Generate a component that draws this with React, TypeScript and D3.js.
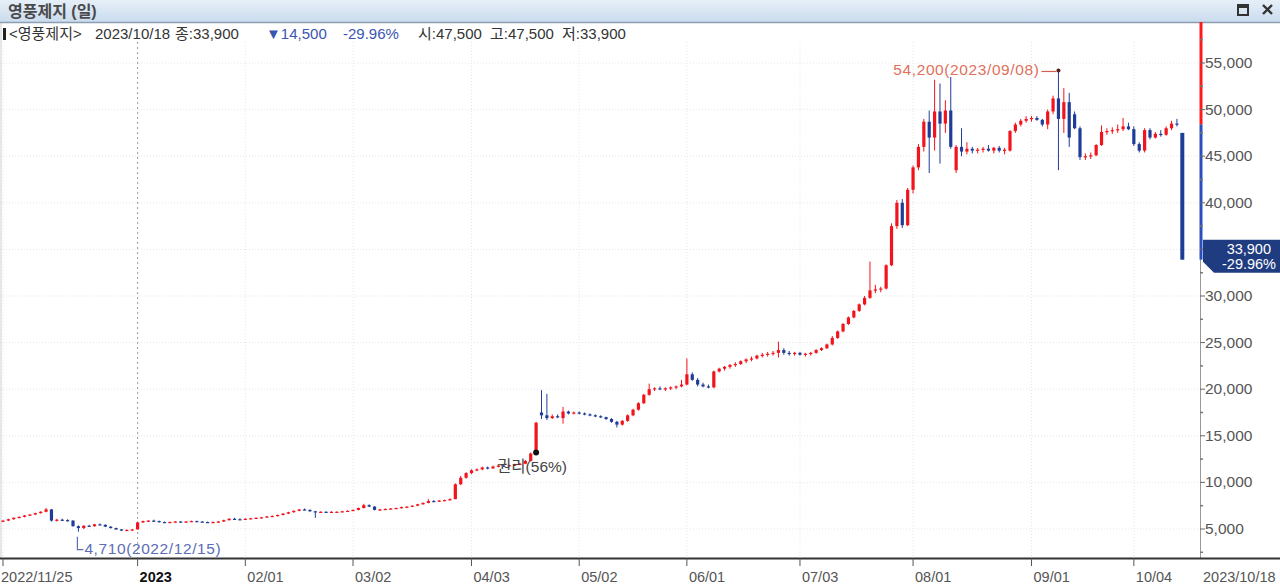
import React from "react";
import * as d3 from "d3";

const dates: string[] = [
  "2022/11/25","2022/11/28","2022/11/29","2022/11/30",
  "2022/12/01","2022/12/02","2022/12/05","2022/12/06","2022/12/07","2022/12/08","2022/12/09","2022/12/12","2022/12/13","2022/12/14","2022/12/15","2022/12/16","2022/12/19","2022/12/20","2022/12/21","2022/12/22","2022/12/23","2022/12/26","2022/12/27","2022/12/28","2022/12/29",
  "2023/01/02","2023/01/03","2023/01/04","2023/01/05","2023/01/06","2023/01/09","2023/01/10","2023/01/11","2023/01/12","2023/01/13","2023/01/16","2023/01/17","2023/01/18","2023/01/19","2023/01/20","2023/01/25","2023/01/26","2023/01/27","2023/01/30","2023/01/31",
  "2023/02/01","2023/02/02","2023/02/03","2023/02/06","2023/02/07","2023/02/08","2023/02/09","2023/02/10","2023/02/13","2023/02/14","2023/02/15","2023/02/16","2023/02/17","2023/02/20","2023/02/21","2023/02/22","2023/02/23","2023/02/24","2023/02/27","2023/02/28",
  "2023/03/02","2023/03/03","2023/03/06","2023/03/07","2023/03/08","2023/03/09","2023/03/10","2023/03/13","2023/03/14","2023/03/15","2023/03/16","2023/03/17","2023/03/20","2023/03/21","2023/03/22","2023/03/23","2023/03/24","2023/03/27","2023/03/28","2023/03/29","2023/03/30","2023/03/31",
  "2023/04/03","2023/04/04","2023/04/05","2023/04/06","2023/04/07","2023/04/10","2023/04/11","2023/04/12","2023/04/13","2023/04/14","2023/04/17","2023/04/18","2023/04/19","2023/04/20","2023/04/21","2023/04/24","2023/04/25","2023/04/26","2023/04/27","2023/04/28",
  "2023/05/02","2023/05/03","2023/05/04","2023/05/08","2023/05/09","2023/05/10","2023/05/11","2023/05/12","2023/05/15","2023/05/16","2023/05/17","2023/05/18","2023/05/19","2023/05/22","2023/05/23","2023/05/24","2023/05/25","2023/05/26","2023/05/30","2023/05/31",
  "2023/06/01","2023/06/02","2023/06/05","2023/06/07","2023/06/08","2023/06/09","2023/06/12","2023/06/13","2023/06/14","2023/06/15","2023/06/16","2023/06/19","2023/06/20","2023/06/21","2023/06/22","2023/06/23","2023/06/26","2023/06/27","2023/06/28","2023/06/29","2023/06/30",
  "2023/07/03","2023/07/04","2023/07/05","2023/07/06","2023/07/07","2023/07/10","2023/07/11","2023/07/12","2023/07/13","2023/07/14","2023/07/17","2023/07/18","2023/07/19","2023/07/20","2023/07/21","2023/07/24","2023/07/25","2023/07/26","2023/07/27","2023/07/28","2023/07/31",
  "2023/08/01","2023/08/02","2023/08/03","2023/08/04","2023/08/07","2023/08/08","2023/08/09","2023/08/10","2023/08/11","2023/08/14","2023/08/16","2023/08/17","2023/08/18","2023/08/21","2023/08/22","2023/08/23","2023/08/24","2023/08/25","2023/08/28","2023/08/29","2023/08/30","2023/08/31",
  "2023/09/01","2023/09/04","2023/09/05","2023/09/06","2023/09/07","2023/09/08","2023/09/11","2023/09/12","2023/09/13","2023/09/14","2023/09/15","2023/09/18","2023/09/19","2023/09/20","2023/09/21","2023/09/22","2023/09/25","2023/09/26","2023/09/27",
  "2023/10/04","2023/10/05","2023/10/06","2023/10/10","2023/10/11","2023/10/12","2023/10/13","2023/10/16","2023/10/17","2023/10/18",
];

const opens: number[] = [
  5800,5900,6050,6200,6300,6450,6550,6700,6850,7100,5900,6000,5950,5900,5300,5100,5350,5300,5500,5450,5250,5100,4950,4850,4900,
  4950,5700,5850,5900,5850,5750,5700,5750,5800,5750,5800,5850,5800,5750,5700,5750,5800,5950,6100,6050,
  6000,6100,6150,6200,6250,6350,6400,6500,6650,6800,6950,7100,7050,6900,6800,6850,6800,6850,6850,6900,
  6950,7050,7250,7550,7400,7050,7100,7150,7200,7250,7350,7400,7500,7650,7800,8000,7950,8050,8100,8200,9800,10500,
  11000,11300,11400,11600,11500,11700,11800,11750,11850,11900,12000,12300,13300,17500,17200,16900,17100,16900,17600,17400,
  17500,17400,17300,17200,17100,17000,16800,16500,16200,16600,17200,17800,18500,19400,20000,20100,20000,20100,20200,20300,
  20500,21600,21000,20500,20300,20200,21900,22200,22400,22600,22700,23000,23200,23300,23600,23700,23800,23900,24200,23900,23800,
  23900,23700,23800,23900,24200,24400,24800,25500,26200,27000,27700,28400,29100,29800,30600,30700,30800,33300,37500,40000,37600,
  41400,43800,46000,48700,47000,49800,48500,49900,43500,46000,45500,45800,45600,45700,45800,45600,45900,45600,45600,47700,48400,48800,
  49000,49100,48900,48400,49800,51200,49000,50800,49500,48000,44900,45000,45100,46200,47600,47700,47800,47900,48200,
  47900,46300,45600,47800,47000,47400,47300,48000,48500,47500,
];

const highs: number[] = [
  5950,6100,6250,6350,6500,6600,6750,6900,7250,7150,6100,6100,6050,5950,5400,5400,5450,5550,5600,5500,5300,5150,5000,4950,5000,
  5800,5900,5950,6000,5900,5800,5800,5850,5850,5850,5900,5900,5850,5800,5800,5850,6000,6150,6200,6150,
  6150,6200,6250,6300,6400,6450,6550,6700,6850,7000,7150,7200,7100,6950,6900,6900,6900,6900,6950,7000,
  7100,7300,7700,7650,7450,7150,7200,7250,7300,7400,7450,7550,7700,7850,8200,8100,8100,8150,8300,9900,10700,11100,
  11400,11500,11700,11700,11800,11900,11900,11900,12000,12100,12400,13200,16500,19900,19500,17300,17300,18100,17700,17600,
  17600,17500,17400,17300,17200,17050,16900,16600,16700,17300,17900,18600,19500,20600,20200,20300,20200,20300,20400,21000,
  23300,21800,21200,20700,20500,22000,22300,22500,22700,22900,23100,23300,23500,23700,23900,24000,24100,25100,24400,24100,24000,
  24000,23900,24000,24300,24500,24900,25700,26300,27100,27800,28500,29200,30000,33700,31200,31000,33400,37800,40300,40400,41600,
  44000,46300,49000,49900,53200,52800,51000,53500,46200,48000,46500,46000,45900,46000,46200,46000,46100,45900,47800,48600,49000,49300,
  49300,49300,49000,50000,51500,54200,52300,51800,49800,48200,45300,45400,46300,48300,48000,48100,48400,49100,48600,
  48200,46500,48000,48000,47600,47800,48200,48800,49000,47500,
];

const lows: number[] = [
  5750,5850,6000,6150,6250,6400,6500,6650,6800,5800,5800,5850,5800,5250,4710,5000,5250,5250,5400,5200,5050,4900,4800,4800,4850,
  4950,5650,5750,5800,5700,5650,5650,5700,5700,5700,5750,5750,5700,5650,5650,5700,5750,5900,6000,5950,
  5950,6050,6100,6150,6200,6300,6350,6450,6600,6750,6900,7000,6850,6200,6750,6750,6750,6800,6800,6850,
  6900,7000,7200,7350,7000,6950,7050,7100,7150,7200,7300,7350,7450,7600,7750,7900,7900,8000,8050,8200,9700,10400,
  10900,11200,11300,11400,11450,11600,11650,11700,11750,11850,11950,12250,13200,16800,16700,16800,16900,16300,17300,17300,
  17300,17200,17100,17000,16900,16700,16400,15900,16100,16500,17100,17700,18400,19300,19800,19900,19800,19900,20000,20200,
  20400,20900,20300,20200,20100,20100,21800,22000,22200,22400,22600,22800,23000,23200,23400,23500,23600,23400,23700,23600,23600,
  23600,23500,23600,23800,24100,24300,24700,25400,26100,26900,27600,28300,29000,29700,30300,30400,30700,33200,37200,37300,37500,
  41000,43500,45500,43200,45600,44200,47500,45800,43200,45000,45200,45300,45300,45400,45500,45300,45400,45200,45500,47500,48200,48600,
  48700,48800,48200,47900,49500,43500,47500,46000,47900,44600,44600,44700,45000,46100,47300,47400,47500,47700,47800,
  46100,45400,45400,46800,46900,47100,47200,47800,48200,33900,
];

const closes: number[] = [
  5900,6050,6200,6300,6450,6550,6700,6850,7100,5900,6000,5950,5900,5300,5100,5350,5300,5500,5450,5250,5100,4950,4850,4900,4950,
  5700,5850,5900,5850,5750,5700,5750,5800,5750,5800,5850,5800,5750,5700,5750,5800,5950,6100,6050,6000,
  6100,6150,6200,6250,6350,6400,6500,6650,6800,6950,7100,7050,6900,6800,6850,6800,6850,6850,6900,6950,
  7050,7250,7550,7400,7050,7100,7150,7200,7250,7350,7400,7500,7650,7800,8000,7950,8050,8100,8200,9800,10500,11000,
  11300,11400,11600,11500,11700,11800,11750,11850,11900,12000,12300,13100,16400,17200,16900,17100,17000,17600,17400,17500,
  17400,17300,17200,17100,17000,16800,16500,16200,16600,17200,17800,18500,19400,20000,20100,20000,20100,20200,20300,20500,
  21600,21000,20500,20300,20200,21900,22200,22400,22600,22700,23000,23200,23300,23600,23700,23800,23900,24200,23900,23800,23900,
  23700,23800,23900,24200,24400,24800,25500,26200,27000,27700,28400,29100,29800,30600,30700,30800,33300,37500,40000,37600,41400,
  43800,46000,48700,47000,49800,48500,49900,46000,46000,45500,45800,45600,45700,45800,45600,45900,45600,45700,47700,48400,48800,49000,
  49100,48900,48400,49800,51200,49000,50800,47000,48000,44900,45000,45100,46200,47600,47700,47800,47900,48200,47900,
  46300,45600,47800,47000,47400,47300,48000,48500,48400,33900,
];

const xTickDates = ["2022/11/25","2023/01/02","2023/02/01","2023/03/02","2023/04/03","2023/05/02","2023/06/01","2023/07/03","2023/08/01","2023/09/01","2023/10/04"];
const xTickLabels = ["2022/11/25","2023","02/01","03/02","04/03","05/02","06/01","07/03","08/01","09/01","10/04"];
const lastDateLabel = "2023/10/18";
const yTickValues = [5000,10000,15000,20000,25000,30000,35000,40000,45000,50000,55000];
const yMinorValues = [2500,7500,12500,17500,22500,27500,32500,37500,42500,47500,52500,57500];

const chartTitle = "영풍제지 (일)";
const stockName = "<영풍제지>";
const infoDate = "2023/10/18";
const infoClose = "종:33,900";
const infoChange = "▼14,500";
const infoPct = "-29.96%";
const infoOpen = "시:47,500";
const infoHigh = "고:47,500";
const infoLow = "저:33,900";
const prevClose = 48400;
const lastPctLabel = "-29.96%";
const rightsDate = "2023/04/19";
const rightsLabel = "권리(56%)";

const UP = "#f2141c";
const DOWN = "#1f3d96";
const FONT = "'Liberation Sans', 'Noto Sans CJK KR', sans-serif";
const W = 1280, H = 586;
const PLOT_TOP = 22, PLOT_BOTTOM = 558, AXIS_X = 1200;

export default function App() {
  const x = d3.scaleBand<string>().domain(dates).range([0.3, 1185]).padding(0);
  const y = d3.scaleLinear().domain([1888, 59400]).range([PLOT_BOTTOM, PLOT_TOP]);
  const bw = x.bandwidth();
  const cx = (d: string) => (x(d) as number) + bw / 2;
  const fmt = d3.format(",");

  const iMax = d3.maxIndex(highs);
  const iMin = d3.minIndex(lows);
  const iLast = dates.length - 1;
  const iRights = dates.indexOf(rightsDate);

  const maxX = cx(dates[iMax]);
  const maxY = y(highs[iMax]);
  const minX = cx(dates[iMin]);
  const minY = y(lows[iMin]);
  const lastY = y(closes[iLast]);

  return (
    <svg width={W} height={H} style={{ position: "absolute", left: 0, top: 0, display: "block", background: "#fff" }} fontFamily={FONT}>
      <defs>
        <linearGradient id="titleGrad" x1="0" y1="0" x2="0" y2="1">
          <stop offset="0" stopColor="#e6eff8" />
          <stop offset="1" stopColor="#cadcee" />
        </linearGradient>
      </defs>
      <rect x={0} y={0} width={W} height={H} fill="#fff" />

      {/* grid */}
      {yTickValues.map((v) => (
        <line key={"hg" + v} x1={0} x2={AXIS_X} y1={y(v)} y2={y(v)} stroke="#e6e6e6" strokeDasharray="1,2" />
      ))}
      {xTickDates.map((d, i) => (
        <line key={"vg" + d} x1={cx(d)} x2={cx(d)} y1={PLOT_TOP + 20} y2={PLOT_BOTTOM}
          stroke={i === 1 ? "#9a9a9a" : "#e6e6e6"} strokeDasharray={i === 1 ? "2,3" : "1,2"} />
      ))}
      <line x1={1} x2={1} y1={PLOT_TOP} y2={PLOT_BOTTOM} stroke="#cfcfcf" />

      {/* candles */}
      {dates.map((d, i) => {
        const o = opens[i], c = closes[i];
        const up = c >= o;
        const col = up ? UP : DOWN;
        const top = y(Math.max(o, c));
        const bot = y(Math.min(o, c));
        const bodyW = i === iLast ? 4 : 3.2;
        return (
          <g key={d}>
            <line x1={cx(d)} x2={cx(d)} y1={y(highs[i])} y2={y(lows[i])} stroke={col} strokeWidth={1} />
            <rect x={cx(d) - bodyW / 2} y={top} width={bodyW} height={Math.max(1.2, bot - top)} fill={col} />
          </g>
        );
      })}

      {/* max annotation */}
      <text x={maxX - 19} y={maxY + 5} textAnchor="end" fontSize={15.5} letterSpacing={0.6} fill="#e0705c">
        {`${fmt(highs[iMax])}(${dates[iMax]})`}
      </text>
      <line x1={maxX - 17} x2={maxX - 2} y1={maxY + 1} y2={maxY + 1} stroke="#d06050" strokeWidth={1.2} />
      <circle cx={maxX} cy={maxY} r={2} fill="#5a2020" />

      {/* min annotation */}
      <path d={`M${minX - 1},${minY + 5} V${minY + 18} H${minX + 5}`} fill="none" stroke="#5b6db5" strokeWidth={1.2} />
      <text x={minX + 6} y={minY + 22} fontSize={15.5} letterSpacing={0.6} fill="#5b6db5">
        {`${fmt(lows[iMin])}(${dates[iMin]})`}
      </text>

      {/* rights marker */}
      <circle cx={cx(rightsDate)} cy={y(lows[iRights])} r={3} fill="#111" />
      <text x={cx(rightsDate) - 39} y={y(lows[iRights]) + 19} fontSize={15.5} fill="#444">{rightsLabel}</text>

      {/* title bar */}
      <rect x={0} y={0} width={W} height={PLOT_TOP} fill="url(#titleGrad)" />
      <line x1={0} x2={W} y1={PLOT_TOP + 0.5} y2={PLOT_TOP + 0.5} stroke="#8e9eb2" strokeWidth={1.5} />
      <text x={8} y={17} fontSize={16} fontWeight="bold" fill="#4a4a4a">{chartTitle}</text>
      <rect x={1238} y={5} width={10} height={10} fill="none" stroke="#333" strokeWidth={2} />
      <rect x={1238} y={5} width={10} height={3} fill="#333" />
      <path d="M1263,5 L1272,14 M1272,5 L1263,14" stroke="#333" strokeWidth={2.4} />

      {/* info line */}
      <rect x={3} y={28} width={3} height={12} fill="#222" />
      <g fontSize={15} fill="#333">
        <text x={9} y={39}>{stockName}</text>
        <text x={95} y={39}>{infoDate}</text>
        <text x={175} y={39}>{infoClose}</text>
        <text x={266} y={39} fill="#3a56b0">{infoChange}</text>
        <text x={343} y={39} fill="#3a56b0">{infoPct}</text>
        <text x={418} y={39}>{infoOpen}</text>
        <text x={490} y={39}>{infoHigh}</text>
        <text x={562} y={39}>{infoLow}</text>
      </g>

      {/* right axis */}
      <line x1={AXIS_X + 0.5} x2={AXIS_X + 0.5} y1={PLOT_TOP} y2={PLOT_BOTTOM} stroke="#999" />
      <line x1={AXIS_X + 1} x2={AXIS_X + 1} y1={PLOT_TOP} y2={y(prevClose)} stroke="#ff1a1a" strokeWidth={3} />
      <line x1={AXIS_X + 1} x2={AXIS_X + 1} y1={y(prevClose)} y2={lastY} stroke="#2a4fc0" strokeWidth={3} />
      {yMinorValues.map((v) => (
        <line key={"mn" + v} x1={AXIS_X} x2={AXIS_X + 3} y1={y(v)} y2={y(v)} stroke="#777" strokeWidth={1.5} />
      ))}
      {yTickValues.map((v) => (
        <g key={"yt" + v}>
          <line x1={AXIS_X} x2={AXIS_X + 5} y1={y(v)} y2={y(v)} stroke="#666" />
          {Math.abs(y(v) - lastY) > 22 && (
            <text x={AXIS_X + 5} y={y(v) + 5} fontSize={15.5} fill="#555">{fmt(v)}</text>
          )}
        </g>
      ))}

      {/* last price box */}
      <path d={`M${AXIS_X + 3},${lastY - 20} H${W} V${lastY + 13} H${AXIS_X + 14} L${AXIS_X + 3},${lastY + 2} Z`} fill="#1f3c80" />
      <text x={W - 9} y={lastY - 6} textAnchor="end" fontSize={14.5} fill="#fff">{fmt(closes[iLast])}</text>
      <text x={W - 4} y={lastY + 9} textAnchor="end" fontSize={14.5} fill="#fff">{lastPctLabel}</text>

      {/* bottom axis */}
      <line x1={0} x2={W} y1={PLOT_BOTTOM + 0.5} y2={PLOT_BOTTOM + 0.5} stroke="#333" strokeWidth={2} />
      {xTickDates.map((d, i) => (
        <g key={"xt" + d}>
          <line x1={cx(d)} x2={cx(d)} y1={PLOT_BOTTOM} y2={PLOT_BOTTOM + 8} stroke="#555" />
          <text x={i === 0 ? 1 : cx(d) + 2} y={582} fontSize={14.5} fill={i === 1 ? "#111" : "#555"} fontWeight={i === 1 ? "bold" : "normal"}>
            {xTickLabels[i]}
          </text>
        </g>
      ))}
      <text x={AXIS_X + 3} y={582} fontSize={14.5} fill="#555">{lastDateLabel}</text>
    </svg>
  );
}
